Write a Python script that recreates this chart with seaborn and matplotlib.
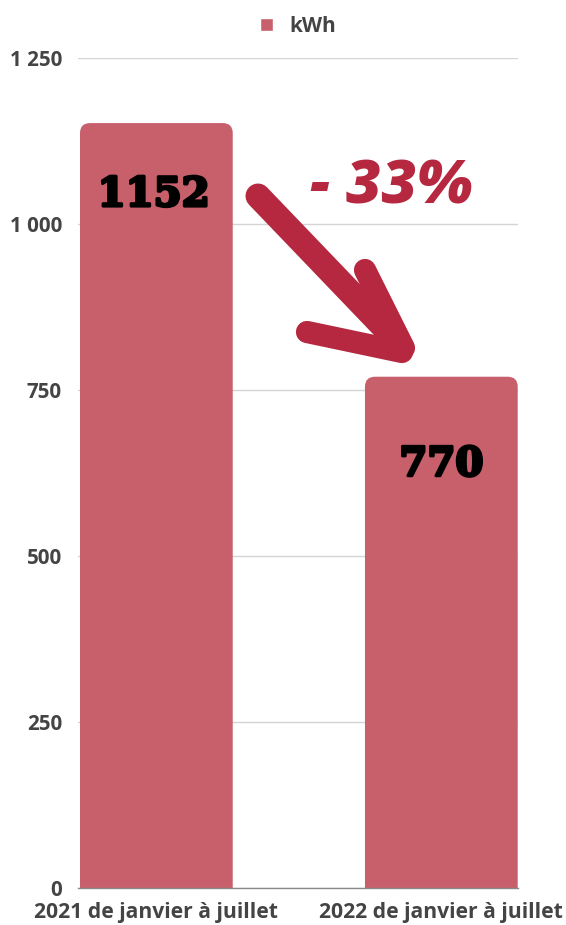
import matplotlib
matplotlib.use("Agg")
import matplotlib.pyplot as plt
import matplotlib.patheffects as pe
import seaborn as sns
import pandas as pd
from matplotlib.patches import FancyBboxPatch
from matplotlib.ticker import FuncFormatter

categories = ["2021 de janvier à juillet", "2022 de janvier à juillet"]
values = [1152, 770]
series_name = "kWh"
change_label = "- 33%"
yticks = [0, 250, 500, 750, 1000, 1250]

bar_color = "#c8606c"
accent = "#b5283f"
text_color = "#444444"

sns.set_theme(style="white")
plt.rcParams["font.family"] = ["Open Sans", "DejaVu Sans"]

df = pd.DataFrame({"period": categories, "value": values, "serie": [series_name] * len(values)})

fig = plt.figure(figsize=(5.66, 9.25), dpi=100)
ax = fig.add_axes([78 / 566, 37 / 925, 440 / 566, 830 / 925])

sns.barplot(data=df, x="period", y="value", hue="serie", palette=[bar_color],
            width=0.536, ax=ax, legend=True, saturation=1)

XL = (-0.275, 1.269)
ax.set_xlim(*XL)
ax.set_ylim(0, 1250)
ax.set_yticks(yticks)
ax.yaxis.set_major_formatter(FuncFormatter(lambda v, p: f"{int(v):,}".replace(",", " ")))
ax.grid(axis="y", color="#d4d4d4", linewidth=1)
ax.set_axisbelow(True)
for s in ["top", "right", "left"]:
    ax.spines[s].set_visible(False)
ax.spines["bottom"].set_color("#8a8a8a")
ax.spines["bottom"].set_linewidth(1)
ax.tick_params(axis="y", length=0, labelsize=14.8, labelcolor=text_color, pad=11.5)
ax.tick_params(axis="x", length=0, labelsize=15.2, labelcolor=text_color, pad=10)
for lab in ax.get_xticklabels() + ax.get_yticklabels():
    lab.set_fontweight("bold")
ax.set_xlabel("")
ax.set_ylabel("")

# rounded tops
xunit = (XL[1] - XL[0]) / 440
yunit = 1250 / 830
for p in list(ax.patches):
    if p.get_height() <= 0:
        continue
    x, w, h = p.get_x(), p.get_width(), p.get_height()
    r = 10 * xunit
    fb = FancyBboxPatch((x, -30), w, h + 30,
                        boxstyle=f"round,pad=0,rounding_size={r}",
                        mutation_aspect=yunit / xunit,
                        facecolor=bar_color, edgecolor="none", zorder=2)
    ax.add_patch(fb)
    p.set_visible(False)

# value labels
offsets = [-72, -88]
for i, (v, off) in enumerate(zip(values, offsets)):
    ax.annotate(str(v), xy=(i, v), xytext=(-2 if i == 0 else 0, off * 0.72),
                textcoords="offset points", ha="center", va="center",
                fontsize=29, fontweight="heavy", family=["DejaVu Serif"],
                color="black", zorder=5,
                path_effects=[pe.withStroke(linewidth=2.2, foreground="black")])

# change text
ax.text((391 - 78) / 440, (888 - 188) / 830, change_label, transform=ax.transAxes,
        ha="center", va="center", fontsize=44, fontweight="heavy", style="italic",
        color=accent, zorder=5)

# arrow
def stroke(p0, p1, lw_):
    f = lambda px, py: ((px - 78) / 440, (888 - py) / 830)
    a, b = f(*p0), f(*p1)
    ax.plot([a[0], b[0]], [a[1], b[1]], transform=ax.transAxes, color=accent,
            linewidth=lw_, solid_capstyle="round", zorder=6, clip_on=False)
stroke((258, 196), (398, 342), 18)
stroke((307, 332), (402, 352), 16)
stroke((365, 270), (404, 348), 16)

sns.move_legend(ax, "upper center", bbox_to_anchor=(0.5, 1.073), frameon=False,
                handlelength=0.6, handleheight=0.6, handletextpad=0.8, fontsize=15,
                title=None)
for t in ax.get_legend().get_texts():
    t.set_fontweight("bold")
    t.set_color(text_color)

fig.savefig("out.png", dpi=100, facecolor="white")
